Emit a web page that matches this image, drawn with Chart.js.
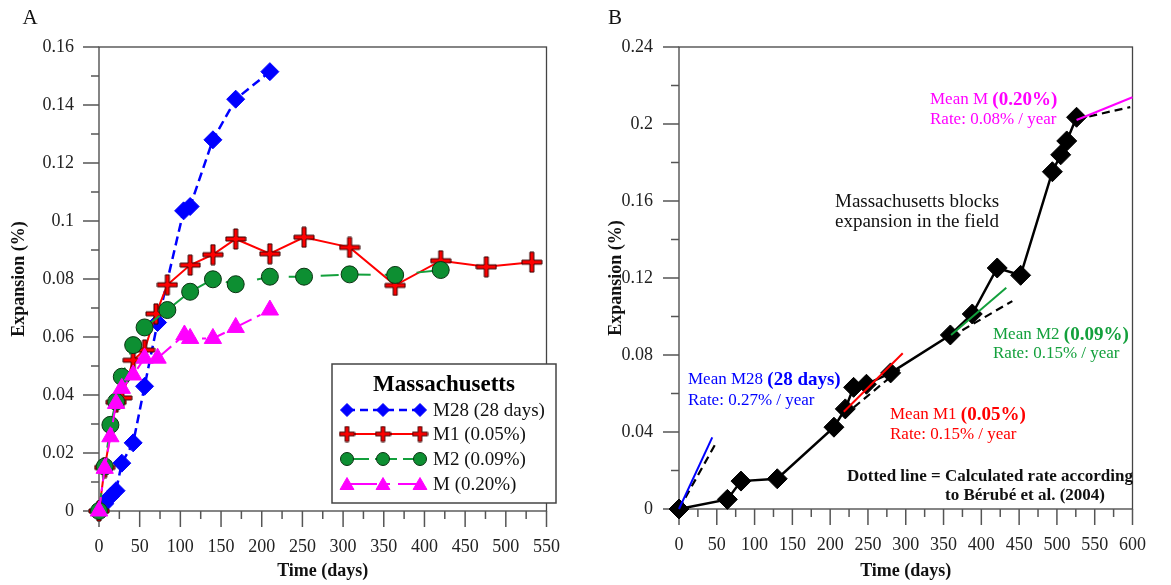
<!DOCTYPE html>
<html>
<head>
<meta charset="utf-8">
<title>Massachusetts expansion</title>
<script src="https://cdn.jsdelivr.net/npm/chart.js@4.4.1/dist/chart.umd.min.js"></script>
<style>
  html, body { margin: 0; padding: 0; background: #fff; }
  #wrap { position: relative; width: 1171px; height: 585px; }
  canvas { position: absolute; top: 0; }
  #chartA { left: 0; }
  #chartB { left: 585px; }
</style>
</head>
<body>
<div id="wrap">
  <canvas id="chartA" width="585" height="585"></canvas>
  <canvas id="chartB" width="586" height="585"></canvas>
</div>
<script>
// ---- panel A : laboratory prisms ----
const m28Days = [0, 7, 14, 21, 28, 42, 56, 72, 104, 112, 140, 168, 210];
const m28Exp = [0, 0.0025, 0.005, 0.007, 0.0165, 0.0235, 0.043, 0.065, 0.1035, 0.105, 0.128, 0.142, 0.1515];

const m1Days = [0, 7, 21, 28, 42, 56, 70, 84, 112, 140, 168, 210, 252, 308, 364, 420, 476, 532];
const m1Exp = [0, 0.015, 0.0375, 0.039, 0.052, 0.0555, 0.068, 0.078, 0.0848, 0.0884, 0.0938, 0.0887, 0.0944, 0.0909, 0.0778, 0.0863, 0.0842, 0.0858];

const m2Days = [0, 7, 14, 21, 28, 42, 56, 84, 112, 140, 168, 210, 252, 308, 364, 420];
const m2Exp = [0, 0.0153, 0.0297, 0.0377, 0.0463, 0.0572, 0.0633, 0.0693, 0.0756, 0.0799, 0.0782, 0.0808, 0.0808, 0.0816, 0.0814, 0.0831];

const mDays = [0, 7, 14, 21, 28, 42, 56, 72, 105, 112, 140, 168, 210];
const mExp = [0, 0.0147, 0.0256, 0.0371, 0.0423, 0.0469, 0.0527, 0.0527, 0.0607, 0.0595, 0.0595, 0.0633, 0.0693];

const timeTicksA = [0, 50, 100, 150, 200, 250, 300, 350, 400, 450, 500, 550];
const expTicksA = [0, 0.02, 0.04, 0.06, 0.08, 0.1, 0.12, 0.14, 0.16];

// ---- panel B : field blocks ----
const fieldDays = [0, 64, 82, 130, 205, 220, 231, 248, 280, 359, 388, 421, 452, 494, 505, 513, 526];
const fieldExp = [0, 0.005, 0.0145, 0.0157, 0.0425, 0.052, 0.0632, 0.0648, 0.0707, 0.0904, 0.1013, 0.1252, 0.1214, 0.1752, 0.184, 0.1912, 0.2035];

// mean rates fitted on each mix
const m28RateDays = [0, 44];
const m28RateExp = [0, 0.0372];
const m1RateDays = [218, 296];
const m1RateExp = [0.0505, 0.0809];
const m2RateDays = [360, 433];
const m2RateExp = [0.0904, 0.1149];
const mRateDays = [526, 600];
const mRateExp = [0.2021, 0.2139];

// rates calculated after Berube et al. (2004)
const m28CalcDays = [0, 50];
const m28CalcExp = [0, 0.035];
const m1CalcDays = [218, 292];
const m1CalcExp = [0.0485, 0.0725];
const m2CalcDays = [360, 441];
const m2CalcExp = [0.0895, 0.108];
const mCalcDays = [526, 597];
const mCalcExp = [0.2025, 0.2088];

const timeTicksB = [0, 50, 100, 150, 200, 250, 300, 350, 400, 450, 500, 550, 600];
const expTicksB = [0, 0.04, 0.08, 0.12, 0.16, 0.2, 0.24];

const SERIF = '"Liberation Serif", "Times New Roman", serif';
const BLUE = '#0000ff';
const RED = '#ff0000';
const GREEN = '#0d8f32';
const GREEN_LINE = '#13a03c';
const MAGENTA = '#ff00ff';

function pts(xs, ys) {
  return xs.map((x, i) => ({ x: x, y: ys[i] }));
}

function crossImage(size, arm, fill) {
  const c = document.createElement('canvas');
  c.width = c.height = size;
  const g = c.getContext('2d');
  const m = size / 2, h = size / 2 - 1;
  g.beginPath();
  g.moveTo(m - arm, m - h); g.lineTo(m + arm, m - h); g.lineTo(m + arm, m - arm);
  g.lineTo(m + h, m - arm); g.lineTo(m + h, m + arm); g.lineTo(m + arm, m + arm);
  g.lineTo(m + arm, m + h); g.lineTo(m - arm, m + h); g.lineTo(m - arm, m + arm);
  g.lineTo(m - h, m + arm); g.lineTo(m - h, m - arm); g.lineTo(m - arm, m - arm);
  g.closePath();
  g.fillStyle = fill;
  g.fill();
  g.lineWidth = 1;
  g.strokeStyle = '#300';
  g.stroke();
  return c;
}

const bigCross = crossImage(22, 2.0, RED);
const smallCross = crossImage(17, 1.8, RED);

// frame around the plot plus major / minor ticks pointing outwards
const frame = {
  id: 'frame',
  beforeDatasetsDraw(chart, args, opts) {
    const { ctx, chartArea: a } = chart;
    const x = chart.scales.x, y = chart.scales.y;
    ctx.save();
    ctx.strokeStyle = '#444';
    ctx.lineWidth = 1.3;
    ctx.strokeRect(a.left, a.top, a.right - a.left, a.bottom - a.top);
    ctx.strokeStyle = '#555';
    ctx.lineWidth = 1.5;
    const n1 = Math.round((x.max - x.min) / opts.xMinor);
    for (let i = 0; i <= n1; i++) {
      const v = x.min + i * opts.xMinor;
      const px = x.getPixelForValue(v);
      const len = i % 2 === 0 ? 16 : 8;
      ctx.beginPath();
      ctx.moveTo(px, a.bottom);
      ctx.lineTo(px, a.bottom + len);
      ctx.stroke();
    }
    const n2 = Math.round((y.max - y.min) / opts.yMinor);
    for (let i = 0; i <= n2; i++) {
      const v = y.min + i * opts.yMinor;
      const py = y.getPixelForValue(v);
      const len = i % 2 === 0 ? 16 : 8;
      ctx.beginPath();
      ctx.moveTo(a.left, py);
      ctx.lineTo(a.left - len, py);
      ctx.stroke();
    }
    ctx.restore();
  },
  afterDraw(chart, args, opts) {
    const ctx = chart.ctx;
    ctx.save();
    ctx.fillStyle = '#111';
    ctx.font = '21px ' + SERIF;
    ctx.textAlign = 'center';
    ctx.textBaseline = 'middle';
    ctx.fillText(opts.letter, opts.letterX, 18);
    ctx.restore();
  }
};

function marker(ctx, kind, x, y, r, fill, stroke) {
  ctx.beginPath();
  if (kind === 'diamond') {
    ctx.moveTo(x - r, y); ctx.lineTo(x, y - r); ctx.lineTo(x + r, y); ctx.lineTo(x, y + r);
  } else if (kind === 'circle') {
    ctx.arc(x, y, r, 0, Math.PI * 2);
  } else if (kind === 'triangle') {
    ctx.moveTo(x, y - r);
    ctx.lineTo(x + r * 0.866, y + r * 0.5);
    ctx.lineTo(x - r * 0.866, y + r * 0.5);
  }
  ctx.closePath();
  ctx.fillStyle = fill;
  ctx.fill();
  ctx.lineWidth = 1;
  ctx.strokeStyle = stroke;
  ctx.stroke();
}

// boxed legend with three symbols per entry
const legendA = {
  id: 'legendA',
  afterDraw(chart) {
    const ctx = chart.ctx;
    ctx.save();
    ctx.fillStyle = '#fff';
    ctx.fillRect(332, 364, 224, 139);
    ctx.strokeStyle = '#444';
    ctx.lineWidth = 1.5;
    ctx.strokeRect(332, 364, 224, 139);

    ctx.fillStyle = '#000';
    ctx.font = 'bold 23px ' + SERIF;
    ctx.textAlign = 'center';
    ctx.textBaseline = 'middle';
    ctx.fillText('Massachusetts', 444, 385);

    const rows = [
      { text: 'M28 (28 days)', color: BLUE, dash: [8, 5], kind: 'diamond', y: 410 },
      { text: 'M1 (0.05%)', color: RED, dash: [], kind: 'cross', y: 434 },
      { text: 'M2 (0.09%)', color: GREEN_LINE, dash: [22, 6], kind: 'circle', y: 459 },
      { text: 'M (0.20%)', color: MAGENTA, dash: [30, 8, 5, 8], kind: 'triangle', y: 484 }
    ];
    const xs = [347, 383, 420];
    rows.forEach(function (r) {
      ctx.strokeStyle = r.color;
      ctx.lineWidth = r.kind === 'diamond' ? 2.5 : 2;
      ctx.setLineDash(r.dash);
      ctx.beginPath();
      ctx.moveTo(xs[0], r.y);
      ctx.lineTo(xs[2], r.y);
      ctx.stroke();
      ctx.setLineDash([]);
      xs.forEach(function (x) {
        if (r.kind === 'cross') {
          ctx.drawImage(smallCross, x - smallCross.width / 2, r.y - smallCross.height / 2);
        } else if (r.kind === 'diamond') {
          marker(ctx, 'diamond', x, r.y, 6.5, BLUE, BLUE);
        } else if (r.kind === 'circle') {
          marker(ctx, 'circle', x, r.y, 6.5, GREEN, '#0a3312');
        } else {
          marker(ctx, 'triangle', x, r.y + 1.5, 8, MAGENTA, MAGENTA);
        }
      });
      ctx.fillStyle = '#111';
      ctx.font = '19px ' + SERIF;
      ctx.textAlign = 'left';
      ctx.textBaseline = 'middle';
      ctx.fillText(r.text, 433, r.y + 1);
    });
    ctx.restore();
  }
};

function mixed(ctx, x, y, parts, color, size, boldSize) {
  ctx.fillStyle = color;
  ctx.textBaseline = 'middle';
  ctx.textAlign = 'left';
  parts.forEach(function (p) {
    ctx.font = p[1] ? 'bold ' + (boldSize || size) + 'px ' + SERIF : size + 'px ' + SERIF;
    ctx.fillText(p[0], x, y);
    x += ctx.measureText(p[0]).width;
  });
}

// rate annotations of panel B
const notesB = {
  id: 'notesB',
  afterDraw(chart) {
    const ctx = chart.ctx;
    ctx.save();
    mixed(ctx, 103, 380, [['Mean M28 ', false], ['(28 days)', true]], BLUE, 17, 19);
    mixed(ctx, 103, 401, [['Rate: 0.27% / year', false]], BLUE, 17);
    mixed(ctx, 305, 415, [['Mean M1 ', false], ['(0.05%)', true]], RED, 17, 19);
    mixed(ctx, 305, 435, [['Rate: 0.15% / year', false]], RED, 17);
    mixed(ctx, 408, 335, [['Mean M2 ', false], ['(0.09%)', true]], GREEN_LINE, 17, 19);
    mixed(ctx, 408, 354, [['Rate: 0.15% / year', false]], GREEN_LINE, 17);
    mixed(ctx, 345, 100, [['Mean M ', false], ['(0.20%)', true]], MAGENTA, 17, 19);
    mixed(ctx, 345, 120, [['Rate: 0.08% / year', false]], MAGENTA, 17);
    mixed(ctx, 250, 202, [['Massachusetts blocks', false]], '#111', 19);
    mixed(ctx, 250, 222, [['expansion in the field', false]], '#111', 19);

    ctx.font = 'bold 17px ' + SERIF;
    const lead = 'Dotted line = ';
    const x0 = 262;
    const x1 = x0 + ctx.measureText(lead).width;
    mixed(ctx, x0, 477, [[lead + 'Calculated rate according', true]], '#111', 17);
    mixed(ctx, x1, 496, [['to Bérubé et al. (2004)', true]], '#111', 17);
    ctx.restore();
  }
};

function axisFont(size, bold) {
  return { family: SERIF, size: size, weight: bold ? 'bold' : 'normal' };
}

function numLabel(v) {
  return String(+v.toFixed(2));
}

function makeScales(cfg) {
  return {
    x: {
      type: 'linear', min: cfg.xMin, max: cfg.xMax,
      afterBuildTicks: function (ax) { ax.ticks = cfg.xTicks.map(function (v) { return { value: v }; }); },
      afterFit: function (s) { s.height = cfg.xHeight; },
      grid: { display: false, drawTicks: false }, border: { display: false },
      ticks: { autoSkip: false, maxRotation: 0, padding: 25, color: '#222', font: axisFont(18) },
      title: { display: true, text: 'Time (days)', color: '#111', font: axisFont(18, true), padding: { top: 0, bottom: 3 } }
    },
    y: {
      type: 'linear', min: 0, max: cfg.yMax,
      afterBuildTicks: function (ax) { ax.ticks = cfg.yTicks.map(function (v) { return { value: v }; }); },
      afterFit: function (s) { s.width = cfg.yWidth; },
      grid: { display: false, drawTicks: false }, border: { display: false },
      ticks: { autoSkip: false, padding: cfg.yPad, color: '#222', font: axisFont(18), callback: numLabel },
      title: { display: true, text: 'Expansion (%)', color: '#111', font: axisFont(18, true), padding: { top: cfg.yTitlePad, bottom: 0 } }
    }
  };
}

const chartA = new Chart(document.getElementById('chartA'), {
  type: 'scatter',
  data: {
    datasets: [
      {
        label: 'M28 (28 days)', data: pts(m28Days, m28Exp), showLine: true, order: 4, clip: false,
        borderColor: BLUE, backgroundColor: BLUE, borderWidth: 2.5, borderDash: [9, 5],
        pointStyle: 'rectRot', pointRadius: 9, pointBorderColor: BLUE, pointBackgroundColor: BLUE, pointBorderWidth: 1
      },
      {
        label: 'M1 (0.05%)', data: pts(m1Days, m1Exp), showLine: true, order: 3, clip: false,
        borderColor: RED, backgroundColor: RED, borderWidth: 2,
        pointStyle: bigCross, pointRadius: 10
      },
      {
        label: 'M2 (0.09%)', data: pts(m2Days, m2Exp), showLine: true, order: 2, clip: false,
        borderColor: GREEN_LINE, backgroundColor: GREEN, borderWidth: 2, borderDash: [18, 14],
        pointStyle: 'circle', pointRadius: 8.5, pointBackgroundColor: GREEN, pointBorderColor: '#0a3312', pointBorderWidth: 1
      },
      {
        label: 'M (0.20%)', data: pts(mDays, mExp), showLine: true, order: 1, clip: false,
        borderColor: MAGENTA, backgroundColor: MAGENTA, borderWidth: 2, borderDash: [14, 6, 4, 6],
        pointStyle: 'triangle', pointRadius: 10, pointBackgroundColor: MAGENTA, pointBorderColor: MAGENTA, pointBorderWidth: 1
      }
    ]
  },
  options: {
    responsive: false,
    animation: false,
    events: [],
    layout: { padding: { left: 0, top: 47, right: 21, bottom: 0 } },
    plugins: {
      legend: { display: false },
      tooltip: { enabled: false },
      frame: { xMinor: 25, yMinor: 0.01, letter: 'A', letterX: 30 }
    },
    scales: makeScales({
      xMin: 0, xMax: 550, xTicks: timeTicksA, xHeight: 74,
      yMax: 0.16, yTicks: expTicksA, yWidth: 99, yPad: 25, yTitlePad: 9
    })
  },
  plugins: [frame, legendA]
});

function rateLine(label, xs, ys, color, dashed, order) {
  return {
    label: label, data: pts(xs, ys), showLine: true, order: order, clip: false,
    borderColor: color, backgroundColor: color, borderWidth: dashed ? 2.2 : 2,
    borderDash: dashed ? [8, 5] : [], pointRadius: 0
  };
}

const chartB = new Chart(document.getElementById('chartB'), {
  type: 'scatter',
  data: {
    datasets: [
      rateLine('M28 mean', m28RateDays, m28RateExp, BLUE, false, 1),
      rateLine('M1 mean', m1RateDays, m1RateExp, RED, false, 1),
      rateLine('M2 mean', m2RateDays, m2RateExp, GREEN_LINE, false, 1),
      rateLine('M mean', mRateDays, mRateExp, MAGENTA, false, 1),
      rateLine('M28 calc', m28CalcDays, m28CalcExp, '#000', true, 2),
      rateLine('M1 calc', m1CalcDays, m1CalcExp, '#000', true, 2),
      rateLine('M2 calc', m2CalcDays, m2CalcExp, '#000', true, 2),
      rateLine('M calc', mCalcDays, mCalcExp, '#000', true, 2),
      {
        label: 'Field blocks', data: pts(fieldDays, fieldExp), showLine: true, order: 5, clip: false,
        borderColor: '#000', backgroundColor: '#000', borderWidth: 2.5,
        pointStyle: 'rectRot', pointRadius: 10, pointBackgroundColor: '#000', pointBorderColor: '#000', pointBorderWidth: 1
      }
    ]
  },
  options: {
    responsive: false,
    animation: false,
    events: [],
    layout: { padding: { left: 0, top: 47, right: 27, bottom: 0 } },
    plugins: {
      legend: { display: false },
      tooltip: { enabled: false },
      frame: { xMinor: 25, yMinor: 0.02, letter: 'B', letterX: 30 }
    },
    scales: makeScales({
      xMin: 0, xMax: 600, xTicks: timeTicksB, xHeight: 76,
      yMax: 0.24, yTicks: expTicksB, yWidth: 94, yPad: 26, yTitlePad: 21
    })
  },
  plugins: [frame, notesB]
});
</script>
</body>
</html>
